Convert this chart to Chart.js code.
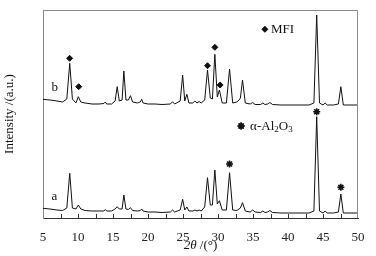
<!DOCTYPE html>
<html>
<head>
<meta charset="utf-8">
<script src="https://cdn.jsdelivr.net/npm/chart.js@4.4.1/dist/chart.umd.min.js"></script>
<style>
  html, body { margin: 0; padding: 0; background: #fff; }
</style>
</head>
<body>
<canvas id="c" width="376" height="256"></canvas>
<script>
// XRD patterns, 2θ grid shared by both samples
const twoTheta = [
  5, 6, 7, 7.8, 8.4, 8.82, 9.2, 9.7, 10.05, 10.4, 11, 12, 13, 13.7, 13.9, 14.1, 14.8,
  15.3, 15.6, 15.9, 16.3, 16.55, 16.85, 17.2, 17.5, 17.8, 18.5, 18.9, 19.1, 19.3,
  20, 21, 22, 23.2, 23.5, 23.8, 24.6, 24.95, 25.25, 25.55, 25.85, 26.4, 26.7, 27.0,
  27.3, 27.6, 28.1, 28.5, 28.9, 29.2, 29.55, 29.9, 30.2, 30.6, 31.2, 31.65, 32.1,
  32.7, 33.0, 33.2, 33.5, 33.9, 34.6, 34.95, 35.3, 36.1, 36.4, 36.7, 37.1, 37.4,
  37.8, 39, 40, 41, 42, 43, 43.7, 44.1, 44.5, 45, 45.3, 45.6, 46.5, 47.2, 47.55,
  47.9, 49, 50
];

// sample b (upper trace)
const intensityB = [
  118.7, 118, 117, 116, 119, 154.7, 119, 115, 121.3, 116, 115, 114, 114, 114.5, 116, 114, 114,
  117, 131.3, 117, 118, 147, 118, 118, 122.3, 116, 115, 116, 118.7, 115,
  114, 114, 113.5, 114, 116.3, 114, 117, 143, 117, 123.7, 115, 115, 117, 115,
  116.5, 115, 118, 148, 120, 119, 163.7, 121, 128, 115, 115, 149, 115,
  116, 118, 120, 138, 115, 114, 115.5, 113.5, 113.5, 115, 113.5, 114, 115.5,
  113.5, 113, 113, 113, 113, 113, 115, 203, 115, 113, 115, 113, 113, 114, 131.3,
  113, 113, 113
];

// sample a (lower trace)
const intensityA = [
  9.7, 9, 8, 7.5, 10, 44.7, 10, 9, 13, 9, 7.5, 7, 7, 7, 8.5, 7, 7,
  9, 11.3, 9, 9, 23, 9, 8.5, 10.3, 7.5, 7, 7.5, 9, 7,
  6, 6, 5.5, 6, 8, 6, 8, 18.7, 8, 11, 7, 7, 8, 7,
  8, 7, 11, 40.3, 13, 13, 48, 14, 17.3, 8, 8, 45.3, 8,
  7.5, 9, 10, 15.3, 7, 6, 8, 6, 5.5, 7, 5.5, 6, 7.5,
  5.5, 5, 5, 5, 5, 5, 7, 101.3, 7, 5, 7, 5, 5, 6, 24,
  5, 5, 5
];

// phase markers
const mfiX = [8.8, 10.1, 28.5, 29.55, 30.3];
const mfiY = [159.7, 131.3, 152.3, 170.7, 133];
const aluminaX = [31.65, 44.1, 47.55];
const aluminaY = [54, 106.3, 30.7];

const xTicks = [5, 10, 15, 20, 25, 30, 35, 40, 45, 50];
const minorTicks = [7.5, 10, 12.5, 15, 17.5, 20, 22.5, 25, 27.5, 30, 32.5, 35, 37.5, 40, 42.5, 45, 47.5];

const SERIF = '"Liberation Serif", "DejaVu Serif", serif';
const INK = '#111';

const toPts = (xs, ys) => xs.map((x, i) => ({ x, y: ys[i] }));

// labels, legend keys and the x-axis title
const decor = {
  id: 'decor',
  afterDraw(chart) {
    const { ctx, chartArea: ca, scales: { x, y } } = chart;
    ctx.save();

    // light frame on top / right
    ctx.strokeStyle = '#8a8a8a';
    ctx.lineWidth = 1;
    ctx.beginPath();
    ctx.moveTo(ca.left, ca.top + 0.5);
    ctx.lineTo(ca.right - 0.5, ca.top + 0.5);
    ctx.lineTo(ca.right - 0.5, ca.bottom);
    ctx.stroke();

    // inward ticks on the x axis
    ctx.strokeStyle = '#333';
    ctx.beginPath();
    minorTicks.forEach(v => {
      const px = Math.round(x.getPixelForValue(v)) + 0.5;
      ctx.moveTo(px, ca.bottom);
      ctx.lineTo(px, ca.bottom - 4);
    });
    ctx.stroke();

    ctx.fillStyle = INK;
    ctx.textBaseline = 'middle';
    ctx.font = '13px ' + SERIF;
    ctx.fillText('b', x.getPixelForValue(6.2), y.getPixelForValue(130));
    ctx.fillText('a', x.getPixelForValue(6.2), y.getPixelForValue(21));

    // legend: diamond MFI
    const lx1 = x.getPixelForValue(36.7), ly1 = y.getPixelForValue(188.7);
    Chart.helpers.drawPoint(ctx, { pointStyle: 'rectRot', radius: 3, borderWidth: 1, rotation: 0 }, lx1, ly1);
    ctx.fillStyle = INK;
    ctx.fill();
    ctx.fillText('MFI', lx1 + 6, ly1 + 0.5);

    // legend: asterisk alpha-Al2O3
    const lx2 = x.getPixelForValue(33.3), ly2 = y.getPixelForValue(92);
    ctx.strokeStyle = INK;
    ctx.lineWidth = 1.6;
    Chart.helpers.drawPoint(ctx, { pointStyle: 'star', radius: 3.5, borderWidth: 1.6, rotation: 0 }, lx2, ly2);
    ctx.stroke();
    let tx = lx2 + 9;
    const parts = [['α-Al', 0], ['2', 1], ['O', 0], ['3', 1]];
    parts.forEach(([t, sub]) => {
      ctx.font = (sub ? '9px ' : '13px ') + SERIF;
      ctx.fillText(t, tx, ly2 + (sub ? 4 : 0.5));
      tx += ctx.measureText(t).width;
    });

    // x title: 2θ /(°)
    ctx.font = 'italic 13px ' + SERIF;
    const w1 = ctx.measureText('2θ').width;
    ctx.font = '13px ' + SERIF;
    const w2 = ctx.measureText(' /(°)').width;
    const cx = (ca.left + ca.right) / 2 - (w1 + w2) / 2;
    ctx.font = 'italic 13px ' + SERIF;
    ctx.fillText('2θ', cx, 246);
    ctx.font = '13px ' + SERIF;
    ctx.fillText(' /(°)', cx + w1, 246);

    ctx.restore();
  }
};

new Chart(document.getElementById('c'), {
  type: 'line',
  data: {
    datasets: [
      { data: toPts(twoTheta, intensityB), borderColor: INK, borderWidth: 1, pointRadius: 0, tension: 0 },
      { data: toPts(twoTheta, intensityA), borderColor: INK, borderWidth: 1, pointRadius: 0, tension: 0 },
      { type: 'scatter', data: toPts(mfiX, mfiY), pointStyle: 'rectRot', pointRadius: 3,
        backgroundColor: INK, borderColor: INK, borderWidth: 1 },
      { type: 'scatter', data: toPts(aluminaX, aluminaY), pointStyle: 'star', pointRadius: 3.5,
        backgroundColor: INK, borderColor: INK, borderWidth: 1.6 },
    ],
  },
  options: {
    responsive: false,
    animation: false,
    layout: { padding: { top: 10, right: 18, left: 0, bottom: 0 } },
    plugins: { legend: { display: false }, tooltip: { enabled: false } },
    scales: {
      x: {
        type: 'linear',
        min: 5,
        max: 50,
        afterFit: s => { s.height = 38; },
        afterBuildTicks: s => { s.ticks = xTicks.map(v => ({ value: v })); },
        ticks: { color: '#222', padding: 4, font: { family: SERIF, size: 13 } },
        grid: { display: false },
        border: { display: true, color: '#333', width: 1 },
      },
      y: {
        min: 0,
        max: 208,
        afterFit: s => { s.width = 43; },
        ticks: { display: false },
        grid: { display: false },
        border: { display: true, color: '#8a8a8a', width: 1 },
        title: {
          display: true,
          text: 'Intensity /(a.u.)',
          color: INK,
          padding: { top: 2, bottom: 0 },
          font: { family: SERIF, size: 13 },
        },
      },
    },
  },
  plugins: [decor],
});
</script>
</body>
</html>
